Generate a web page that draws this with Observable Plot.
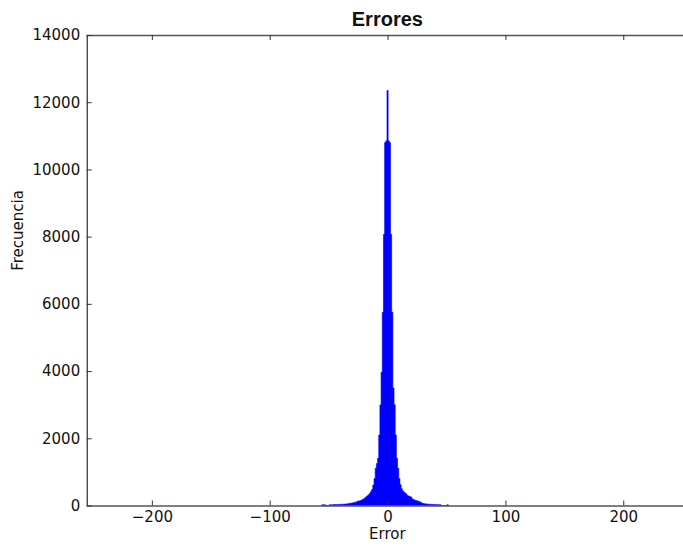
<!DOCTYPE html>
<html>
<head>
<meta charset="utf-8">
<script src="https://cdn.jsdelivr.net/npm/d3@7"></script>
<script src="https://cdn.jsdelivr.net/npm/@observablehq/plot@0.6"></script>
<style>
  html, body { margin: 0; padding: 0; background: #fff; }
  svg { display: block; }
</style>
</head>
<body>
<div id="chart"></div>
<script>
const title = "Errores";
const xLabel = "Error";
const yLabel = "Frecuencia";
const xTicks = [-200, -100, 0, 100, 200];
const yTicks = [0, 2000, 4000, 6000, 8000, 10000, 12000, 14000];
const xDomain = [-255.3, 250.7];
const yDomain = [0, 14000];
// bin centers (width 1) from -55 to 51
const binCenters = d3.range(-55, 52);
const counts = [
  25, 20, 20,
  0, 0, 0,
  25, 25, 25, 26, 28, 28, 30, 30, 32, 34, 36, 38, 40, 42, 45, 50, 55,
  65, 70, 75, 80, 90, 100, 110,
  134, 134, 145, 160, 180, 200, 230,
  262, 290, 320, 363, 420, 480, 610, 800,
  1107, 1250, 1404, 2098, 2990, 3963, 5750, 8070, 10800, 10850,
  12350,
  10850, 10800, 8070, 5750, 3500, 3000, 2100, 1404, 1107, 800,
  620, 500, 440, 400, 370, 340, 300, 280, 265, 255,
  200, 180, 165, 150, 140, 130, 120, 100, 80, 65,
  55, 50, 45, 42, 40, 38, 35, 33, 30, 30,
  28, 27, 25, 25, 22, 0, 0, 0, 0, 0,
  25
];
// step outline built from the bins: left edge of each bin, plus the final right edge
const steps = binCenters.map((c, i) => ({x: c - 0.5, n: counts[i]}))
  .concat([{x: binCenters[binCenters.length - 1] + 0.5, n: counts[counts.length - 1]}]);

const chart = Plot.plot({
  width: 683,
  height: 546,
  marginLeft: 86.7,
  marginRight: 0,
  marginTop: 35,
  marginBottom: 40.5,
  style: {fontFamily: "DejaVu Sans", fontSize: "15px", color: "#111", background: "#fff"},
  x: {domain: xDomain},
  y: {domain: yDomain},
  marks: [
    Plot.areaY(steps, {x: "x", y: "n", curve: "step-after", fill: "#0000ff", stroke: "#0000ff", strokeWidth: 0.6}),
    // spines
    Plot.ruleY([yDomain[0]], {stroke: "#555", strokeWidth: 1.6}),
    Plot.ruleY([yDomain[1]], {stroke: "#555", strokeWidth: 1.6}),
    Plot.ruleX([xDomain[0]], {stroke: "#000", strokeWidth: 1}),
    // inward ticks
    Plot.ruleX(xTicks, {x: d => d, y1: yDomain[0], y2: yDomain[0], insetTop: -5, stroke: "#333"}),
    Plot.ruleX(xTicks, {x: d => d, y1: yDomain[1], y2: yDomain[1], insetBottom: -5, stroke: "#333"}),
    Plot.ruleY(yTicks, {y: d => d, x1: xDomain[0], x2: xDomain[0], insetRight: -5, stroke: "#333"}),
    // tick labels
    Plot.axisX(xTicks, {tickSize: 0, tickPadding: 5, fontSize: 15, label: null, tickFormat: d => (d < 0 ? "\u2212" + (-d) : String(d))}),
    Plot.axisY(yTicks, {tickSize: 0, tickPadding: 7, fontSize: 15, label: null, tickFormat: d => String(d)}),
    // labels
    Plot.text([xLabel], {text: d => d, frameAnchor: "bottom", dy: 28, dx: 2, fontSize: 15, lineAnchor: "middle"}),
    Plot.text([yLabel], {text: d => d, frameAnchor: "left", dx: -69, rotate: -90, fontSize: 15, lineAnchor: "middle"}),
    Plot.text([title], {text: d => d, frameAnchor: "top", dy: -16, dx: 2, fontSize: 20, fontWeight: "bold", fontFamily: "Liberation Sans", lineAnchor: "middle"})
  ]
});
document.getElementById("chart").appendChild(chart);
</script>
</body>
</html>
